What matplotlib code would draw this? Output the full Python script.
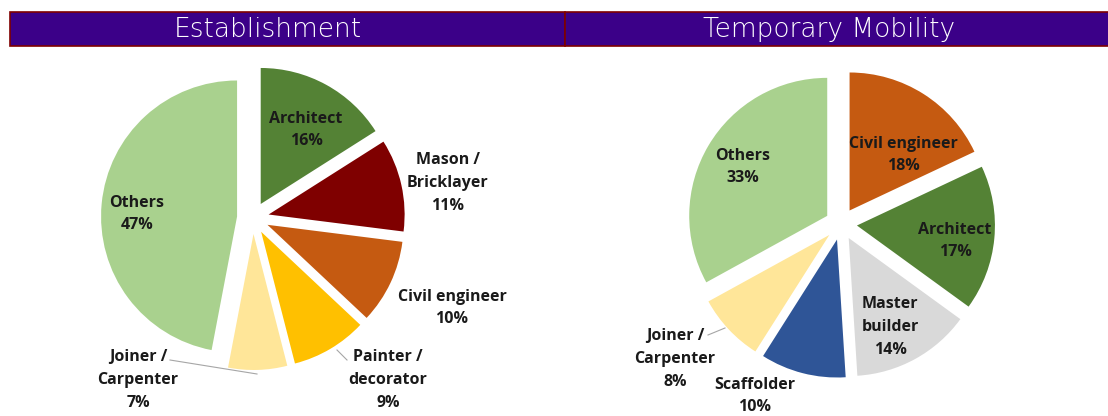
import matplotlib.pyplot as plt
from matplotlib.patches import Rectangle

plt.rcParams['font.family'] = ['Open Sans', 'DejaVu Sans']

W, H = 1108, 416

# Establishment: occupations, share in %
est_labels = ['Architect', 'Mason /\nBricklayer', 'Civil engineer', 'Painter /\ndecorator',
              'Joiner /\nCarpenter', 'Others']
est_values = [16, 11, 10, 9, 7, 47]
est_colors = ['#548235', '#7F0000', '#C55A11', '#FFC000', '#FFE699', '#A9D18E']

# Temporary mobility
tmp_labels = ['Civil engineer', 'Architect', 'Master\nbuilder', 'Scaffolder',
              'Joiner /\nCarpenter', 'Others']
tmp_values = [18, 17, 14, 10, 8, 33]
tmp_colors = ['#C55A11', '#548235', '#D9D9D9', '#2F5597', '#FFE699', '#A9D18E']

# label anchor points (pixels from top-left)
est_label_pos = [(306, 130), (448, 183), (452, 308), (388, 380), (138, 380), (137, 214)]
tmp_label_pos = [(903, 155), (955, 241), (890, 327), (755, 396), (675, 359), (743, 167)]

fig = plt.figure(figsize=(W / 100, H / 100), dpi=100)
ax = fig.add_axes([0, 0, 1, 1])


def draw_pie(values, colors, center, radius, gap):
    # explode is given in data units (pixels here)
    ax.pie(values, colors=colors, startangle=90, counterclock=False,
           center=(center[0], H - center[1]), radius=radius,
           explode=[gap] * len(values),
           wedgeprops=dict(linewidth=0))


def draw_labels(labels, values, positions):
    for lab, val, (x, y) in zip(labels, values, positions):
        ax.text(x, H - y, f'{lab}\n{val}%', ha='center', va='center',
                fontsize=11.5, fontweight='bold', color='#1A1A1A', linespacing=1.55)


draw_pie(est_values, est_colors, (253, 218), 136, 16)
draw_pie(tmp_values, tmp_colors, (841, 224), 138, 16)
draw_labels(est_labels, est_values, est_label_pos)
draw_labels(tmp_labels, tmp_values, tmp_label_pos)

# leader lines for outside labels
leader = dict(color='#A6A6A6', linewidth=0.8)
ax.plot([170, 257], [H - 360, H - 374], **leader)
ax.plot([337, 347], [H - 350, H - 360], **leader)
ax.plot([708, 725], [H - 335, H - 328], **leader)

# header bars
for x0, x1, title, tx in [(10, 565, 'Establishment', 268),
                          (565, 1112, 'Temporary Mobility', 829)]:
    ax.add_patch(Rectangle((x0, H - 46), x1 - x0, 34, facecolor='#3B0088',
                           edgecolor='#7F0000', linewidth=1.2, zorder=5))
    ax.text(tx, H - 29.5, title, ha='center', va='center', color='white',
            fontsize=19, fontfamily='DejaVu Sans', fontweight='light', zorder=6)

ax.set_xlim(0, W)
ax.set_ylim(0, H)
ax.set_aspect('auto')
ax.axis('off')

fig.savefig('out.png', dpi=100, facecolor='white')
